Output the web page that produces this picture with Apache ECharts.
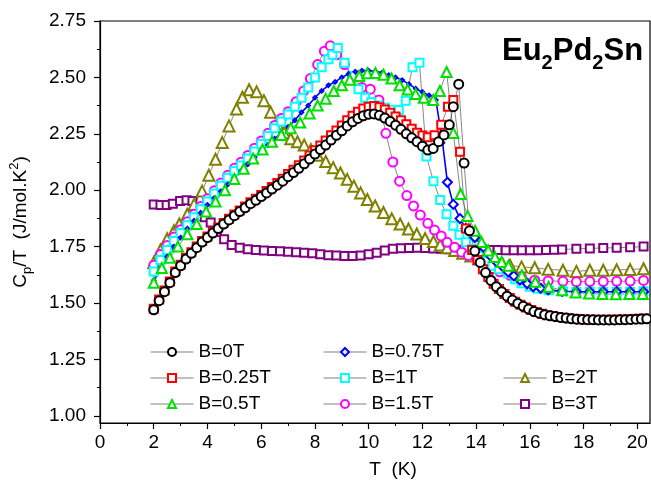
<!DOCTYPE html>
<html>
<head>
<meta charset="utf-8">
<script src="https://cdn.jsdelivr.net/npm/echarts@6/dist/echarts.min.js"></script>
<style>
  html, body { margin: 0; padding: 0; background: #fff; }
  #chart { width: 651px; height: 484px; }
</style>
</head>
<body>
<div id="chart"></div>
<script>
// Specific heat divided by temperature, Cp/T (J/mol.K^2), versus T (K), for several applied fields.
// Each array holds [T, Cp/T] points.
const b0T = [[2.0,1.47],[2.2,1.51],[2.4,1.55],[2.6,1.59],[2.8,1.635],[3.0,1.665],[3.2,1.695],[3.4,1.72],[3.6,1.745],[3.8,1.77],
  [4.0,1.79],[4.2,1.81],[4.4,1.83],[4.6,1.85],[4.8,1.868],[5.0,1.887],[5.2,1.905],[5.4,1.922],[5.6,1.94],[5.8,1.955],
  [6.0,1.972],[6.2,1.988],[6.4,2.005],[6.6,2.022],[6.8,2.04],[7.0,2.06],[7.2,2.078],[7.4,2.097],[7.6,2.117],[7.8,2.138],
  [8.0,2.16],[8.2,2.18],[8.4,2.2],[8.6,2.222],[8.8,2.243],[9.0,2.263],[9.2,2.285],[9.4,2.303],[9.6,2.318],[9.8,2.33],
  [10.0,2.337],[10.2,2.338],[10.4,2.332],[10.6,2.32],[10.8,2.305],[11.0,2.288],[11.2,2.27],[11.4,2.25],[11.6,2.232],[11.8,2.215],
  [12.0,2.195],[12.2,2.178],[12.4,2.185],[12.6,2.215],[12.8,2.245],[13.0,2.29],[13.15,2.37],[13.35,2.47],[13.55,2.12],[13.75,1.82],
  [13.95,1.73],[14.15,1.68],[14.35,1.635],[14.55,1.6],[14.75,1.572],[14.95,1.55],[15.15,1.53],[15.35,1.513],[15.55,1.498],[15.75,1.485],
  [15.95,1.473],[16.15,1.462],[16.35,1.455],[16.55,1.448],[16.75,1.443],[16.95,1.44],[17.15,1.436],[17.35,1.433],[17.55,1.43],[17.75,1.428],
  [17.95,1.427],[18.15,1.426],[18.35,1.426],[18.55,1.425],[18.75,1.425],[18.95,1.425],[19.15,1.425],[19.35,1.426],[19.55,1.426],[19.75,1.427],
  [19.95,1.428],[20.15,1.429],[20.35,1.43]];

const b025T = [[2.0,1.475],[2.2,1.515],[2.4,1.555],[2.6,1.595],[2.8,1.64],[3.0,1.67],[3.2,1.7],[3.4,1.725],[3.6,1.75],[3.8,1.775],
  [4.0,1.795],[4.2,1.815],[4.4,1.835],[4.6,1.855],[4.8,1.873],[5.0,1.892],[5.2,1.91],[5.4,1.928],[5.6,1.946],[5.8,1.962],
  [6.0,1.979],[6.2,1.996],[6.4,2.014],[6.6,2.032],[6.8,2.051],[7.0,2.072],[7.2,2.091],[7.4,2.111],[7.6,2.132],[7.8,2.154],
  [8.0,2.177],[8.2,2.198],[8.4,2.22],[8.6,2.243],[8.8,2.265],[9.0,2.287],[9.2,2.31],[9.4,2.33],[9.6,2.348],[9.8,2.362],
  [10.0,2.37],[10.2,2.373],[10.4,2.368],[10.6,2.358],[10.8,2.343],[11.0,2.327],[11.2,2.31],[11.4,2.292],[11.6,2.272],[11.8,2.255],
  [12.0,2.242],[12.2,2.235],[12.45,2.243],[12.7,2.29],[12.95,2.37],[13.15,2.4],[13.4,2.17],[13.62,1.83],[13.85,1.735],[14.05,1.69],
  [14.25,1.65],[14.45,1.615],[14.65,1.585],[14.85,1.562],[15.05,1.54],[15.25,1.522],[15.45,1.506],[15.65,1.492],[15.85,1.48],[16.05,1.469],
  [16.25,1.46],[16.45,1.452],[16.65,1.446],[16.85,1.442],[17.05,1.438],[17.25,1.435],[17.45,1.432],[17.65,1.43],[17.85,1.428],[18.05,1.427],
  [18.25,1.426],[18.45,1.426],[18.65,1.426],[18.85,1.426],[19.05,1.426],[19.25,1.427],[19.45,1.427],[19.65,1.428],[19.85,1.429],[20.05,1.43],
  [20.25,1.431]];

const b05T = [[2.0,1.59],[2.3,1.655],[2.6,1.7],[2.9,1.75],[3.25,1.805],[3.6,1.85],[3.95,1.905],[4.3,1.95],[4.65,2.0],[5.0,2.05],
  [5.35,2.095],[5.7,2.14],[6.05,2.18],[6.4,2.215],[6.75,2.245],[7.1,2.275],[7.45,2.3],[7.8,2.34],[8.1,2.375],[8.4,2.405],
  [8.7,2.44],[9.0,2.465],[9.3,2.49],[9.65,2.506],[9.95,2.518],[10.25,2.52],[10.55,2.512],[10.85,2.495],[11.15,2.465],[11.45,2.446],
  [11.75,2.426],[12.05,2.41],[12.4,2.4],[12.65,2.44],[12.9,2.524],[13.15,2.254],[13.42,1.983],[13.68,1.886],[13.96,1.82],[14.2,1.77],
  [14.45,1.733],[14.7,1.704],[14.95,1.682],[15.2,1.665],[15.7,1.623],[16.2,1.594],[16.7,1.572],[17.2,1.556],[17.7,1.546],[18.2,1.542],
  [18.7,1.54],[19.2,1.539],[19.7,1.54],[20.2,1.54]];

const b075T = [[2.0,1.6],[2.25,1.655],[2.5,1.705],[2.75,1.75],[3.0,1.79],[3.25,1.83],[3.5,1.865],[3.75,1.9],[4.0,1.935],[4.25,1.965],
  [4.5,1.995],[4.75,2.025],[5.0,2.055],[5.25,2.085],[5.5,2.115],[5.75,2.145],[6.0,2.175],[6.25,2.2],[6.5,2.228],[6.75,2.255],
  [7.0,2.28],[7.25,2.31],[7.5,2.345],[7.75,2.375],[8.0,2.41],[8.25,2.44],[8.5,2.465],[8.75,2.48],[9.0,2.5],[9.25,2.515],
  [9.5,2.525],[9.75,2.53],[10.0,2.53],[10.25,2.527],[10.5,2.521],[10.75,2.51],[11.0,2.5],[11.25,2.488],[11.5,2.47],[11.75,2.45],
  [12.0,2.435],[12.25,2.42],[12.5,2.4],[12.75,2.21],[12.93,2.035],[13.15,1.937],[13.4,1.874],[13.62,1.83],[13.95,1.79],[14.27,1.747],
  [14.52,1.71],[14.76,1.682],[15.0,1.66],[15.19,1.638],[15.4,1.62],[15.63,1.602],[15.9,1.585],[16.12,1.572],[16.4,1.565],[16.68,1.558],
  [17.2,1.552],[17.73,1.55],[18.23,1.55],[18.73,1.55],[19.23,1.55],[19.73,1.55],[20.23,1.55]];

const b1T = [[2.0,1.64],[2.25,1.69],[2.5,1.735],[2.75,1.775],[3.0,1.81],[3.25,1.845],[3.5,1.88],[3.75,1.915],[4.0,1.95],[4.25,1.985],
  [4.5,2.02],[4.75,2.055],[5.0,2.085],[5.25,2.11],[5.5,2.14],[5.75,2.172],[6.0,2.205],[6.25,2.24],[6.5,2.275],[6.75,2.305],
  [7.0,2.335],[7.25,2.37],[7.5,2.41],[7.75,2.455],[8.0,2.5],[8.25,2.545],[8.5,2.58],[8.65,2.6],[8.85,2.63],[9.1,2.565],
  [9.38,2.506],[9.62,2.448],[9.87,2.41],[10.1,2.39],[10.35,2.375],[10.6,2.365],[10.85,2.357],[11.12,2.355],[11.38,2.397],[11.63,2.545],
  [11.89,2.565],[12.15,2.149],[12.41,2.04],[12.66,1.957],[12.9,1.893],[13.15,1.842],[13.38,1.803],[13.62,1.769],[13.85,1.74],[14.1,1.71],
  [14.35,1.685],[14.6,1.665],[14.85,1.65],[15.19,1.631],[15.45,1.605],[15.69,1.587],[16.0,1.572],[16.3,1.563],[16.7,1.556],[17.23,1.552],
  [17.73,1.55],[18.23,1.55],[18.73,1.55],[19.23,1.55],[19.73,1.55],[20.23,1.552]];

const b15T = [[2.0,1.667],[2.25,1.715],[2.5,1.755],[2.75,1.792],[3.0,1.825],[3.25,1.86],[3.5,1.893],[3.75,1.928],[4.0,1.962],[4.25,1.997],
  [4.5,2.032],[4.75,2.066],[5.0,2.097],[5.25,2.124],[5.5,2.154],[5.75,2.186],[6.0,2.218],[6.25,2.252],[6.5,2.287],[6.75,2.318],
  [7.0,2.348],[7.3,2.392],[7.58,2.44],[7.83,2.495],[8.1,2.557],[8.35,2.616],[8.57,2.64],[8.81,2.6],[9.1,2.557],[9.4,2.5],
  [9.75,2.455],[10.06,2.448],[10.38,2.4],[10.64,2.252],[10.9,2.125],[11.15,2.04],[11.42,1.976],[11.67,1.93],[11.92,1.89],[12.2,1.853],
  [12.45,1.823],[12.7,1.797],[12.92,1.769],[13.2,1.747],[13.46,1.725],[13.71,1.711],[14.02,1.696],[14.33,1.674],[14.64,1.652],[14.88,1.638],
  [15.26,1.623],[15.69,1.613],[16.18,1.601],[16.68,1.598],[17.23,1.596],[17.73,1.594],[18.23,1.595],[18.73,1.595],[19.23,1.596],[19.73,1.597],
  [20.23,1.6]];

const b2T = [[2.0,1.68],[2.25,1.735],[2.5,1.785],[2.75,1.82],[2.95,1.85],[3.25,1.893],[3.5,1.937],[3.8,1.996],[4.05,2.066],[4.3,2.137],
  [4.55,2.211],[4.8,2.285],[5.08,2.36],[5.3,2.412],[5.55,2.445],[5.83,2.436],[6.1,2.397],[6.35,2.346],[6.6,2.295],[6.85,2.255],
  [7.1,2.228],[7.35,2.215],[7.6,2.2],[7.85,2.18],[8.1,2.155],[8.4,2.127],[8.68,2.1],[8.95,2.076],[9.2,2.048],[9.45,2.018],
  [9.7,1.988],[9.95,1.959],[10.24,1.93],[10.55,1.901],[10.86,1.873],[11.17,1.85],[11.48,1.828],[11.79,1.806],[12.1,1.786],[12.41,1.773],
  [12.66,1.757],[12.92,1.745],[13.2,1.733],[13.5,1.72],[13.8,1.708],[14.1,1.695],[14.4,1.685],[14.7,1.676],[15.0,1.67],[15.26,1.667],
  [15.69,1.66],[16.18,1.656],[16.68,1.649],[17.23,1.645],[17.73,1.64],[18.23,1.645],[18.73,1.645],[19.23,1.647],[19.73,1.648],[20.23,1.652]];

const b3T = [[2.0,1.937],[2.25,1.934],[2.48,1.934],[2.71,1.94],[2.98,1.952],[3.22,1.955],[3.44,1.952],[3.65,1.915],[3.9,1.88],[4.12,1.857],
  [4.35,1.815],[4.62,1.782],[4.9,1.757],[5.2,1.745],[5.5,1.738],[5.8,1.735],[6.1,1.733],[6.4,1.731],[6.7,1.729],[7.0,1.727],
  [7.3,1.725],[7.6,1.723],[7.9,1.72],[8.2,1.716],[8.5,1.712],[8.8,1.71],[9.1,1.708],[9.4,1.708],[9.7,1.711],[10.0,1.716],
  [10.3,1.723],[10.6,1.733],[10.9,1.74],[11.2,1.743],[11.5,1.744],[11.8,1.745],[12.1,1.744],[12.4,1.742],[12.7,1.74],[13.0,1.738],
  [13.3,1.736],[13.6,1.735],[13.9,1.735],[14.2,1.735],[14.5,1.735],[14.8,1.735],[15.1,1.734],[15.4,1.734],[15.7,1.734],[16.0,1.734],
  [16.3,1.734],[16.6,1.735],[16.9,1.736],[17.2,1.737],[17.73,1.74],[18.23,1.742],[18.73,1.744],[19.23,1.745],[19.73,1.747],[20.23,1.75]];

// Axis tick labels
const xTicks = [0, 2, 4, 6, 8, 10, 12, 14, 16, 18, 20];
const yTicks = [1.00, 1.25, 1.50, 1.75, 2.00, 2.25, 2.50, 2.75];

const FONT = 'Liberation Sans, Arial, sans-serif';
const chart = echarts.init(document.getElementById('chart'), null, { renderer: 'canvas' });

function mkSeries(name, data, symbol, color, size, extra) {
  return Object.assign({
    name: name,
    type: 'line',
    data: data,
    symbol: symbol,
    symbolSize: size,
    showAllSymbol: true,
    lineStyle: { color: '#555', width: 0.7 },
    itemStyle: { color: color, borderColor: color, borderWidth: 1.7 },
    emphasis: { disabled: true },
    animation: false
  }, extra || {});
}

const option = {
  backgroundColor: '#fff',
  animation: false,
  title: {
    text: '{a|Eu}{s|2}{a|Pd}{s|2}{a|Sn}',
    left: 497,
    top: 24,
    textStyle: {
      rich: {
        a: { fontFamily: FONT, fontWeight: 'bold', fontSize: 31, lineHeight: 44, color: '#000' },
        s: { fontFamily: FONT, fontWeight: 'bold', fontSize: 20, lineHeight: 22, verticalAlign: 'bottom', color: '#000' }
      }
    }
  },
  grid: {
    left: 99, right: 1, top: 21, bottom: 56,
    show: true, borderColor: '#000', borderWidth: 1.2, backgroundColor: 'transparent'
  },
  legend: [
    { data: ['B=0T', 'B=0.25T', 'B=0.5T'], left: 145, top: 337 },
    { data: ['B=0.75T', 'B=1T', 'B=1.5T'], left: 318, top: 337 },
    { data: ['B=2T', 'B=3T'], left: 498, top: 363 }
  ].map(l => Object.assign({
    orient: 'vertical',
    itemWidth: 43,
    itemHeight: 10,
    itemGap: 6,
    selectedMode: false,
    lineStyle: { color: '#808080', width: 1 },
    textStyle: { fontFamily: FONT, fontSize: 19, lineHeight: 20, color: '#000' }
  }, l)),
  xAxis: {
    type: 'value',
    min: 0,
    max: 20.47,
    interval: 2,
    name: 'T  (K)',
    nameLocation: 'middle',
    nameGap: 37,
    nameTextStyle: { fontFamily: FONT, fontSize: 19, color: '#000', padding: [0, 0, 0, 36] },
    axisLine: { show: true, lineStyle: { color: '#000', width: 1.2 } },
    axisTick: { show: true, length: 6, customValues: xTicks, lineStyle: { color: '#000', width: 1.2 } },
    minorTick: { show: true, splitNumber: 2, length: 3, lineStyle: { color: '#000', width: 1 } },
    axisLabel: { customValues: xTicks, fontFamily: FONT, fontSize: 19, color: '#000', margin: 10 },
    splitLine: { show: false }
  },
  yAxis: {
    type: 'value',
    min: 0.968,
    max: 2.75,
    minInterval: 0.25,
    maxInterval: 0.25,
    name: '{a|C}{b|p}{a|/T  (J/mol.K}{c|2}{a|)}',
    nameLocation: 'middle',
    nameGap: 66,
    nameRotate: 90,
    nameTextStyle: {
      rich: {
        a: { fontFamily: FONT, fontSize: 19, lineHeight: 26, color: '#000' },
        b: { fontFamily: FONT, fontSize: 13, lineHeight: 13, verticalAlign: 'bottom', color: '#000' },
        c: { fontFamily: FONT, fontSize: 13, lineHeight: 13, verticalAlign: 'top', color: '#000' }
      }
    },
    axisLine: { show: true, lineStyle: { color: '#000', width: 1.2 } },
    axisTick: { show: true, length: 6, customValues: yTicks, lineStyle: { color: '#000', width: 1.2 } },
    minorTick: { show: true, splitNumber: 2, length: 3, lineStyle: { color: '#000', width: 1 } },
    axisLabel: {
      customValues: yTicks,
      fontFamily: FONT, fontSize: 19, color: '#000', margin: 14,
      formatter: v => v.toFixed(2)
    },
    splitLine: { show: false }
  },
  series: [
    mkSeries('B=3T', b3T, 'emptyRect', '#800080', 8),
    mkSeries('B=2T', b2T, 'emptyTriangle', '#808000', 11),
    mkSeries('B=1.5T', b15T, 'emptyCircle', '#ff00ff', 9),
    mkSeries('B=1T', b1T, 'emptyRect', '#00ffff', 8),
    mkSeries('B=0.75T', b075T, 'emptyDiamond', '#0000ff', v => (v[0] > 12.85 ? 9 : 3.5),
      { lineStyle: { color: '#0000ff', width: 1.6 } }),
    mkSeries('B=0.5T', b05T, 'emptyTriangle', '#00e000', 10),
    mkSeries('B=0.25T', b025T, 'emptyRect', '#ff0000', 8),
    mkSeries('B=0T', b0T, 'emptyCircle', '#000000', 9)
  ]
};

chart.setOption(option);
</script>
</body>
</html>
